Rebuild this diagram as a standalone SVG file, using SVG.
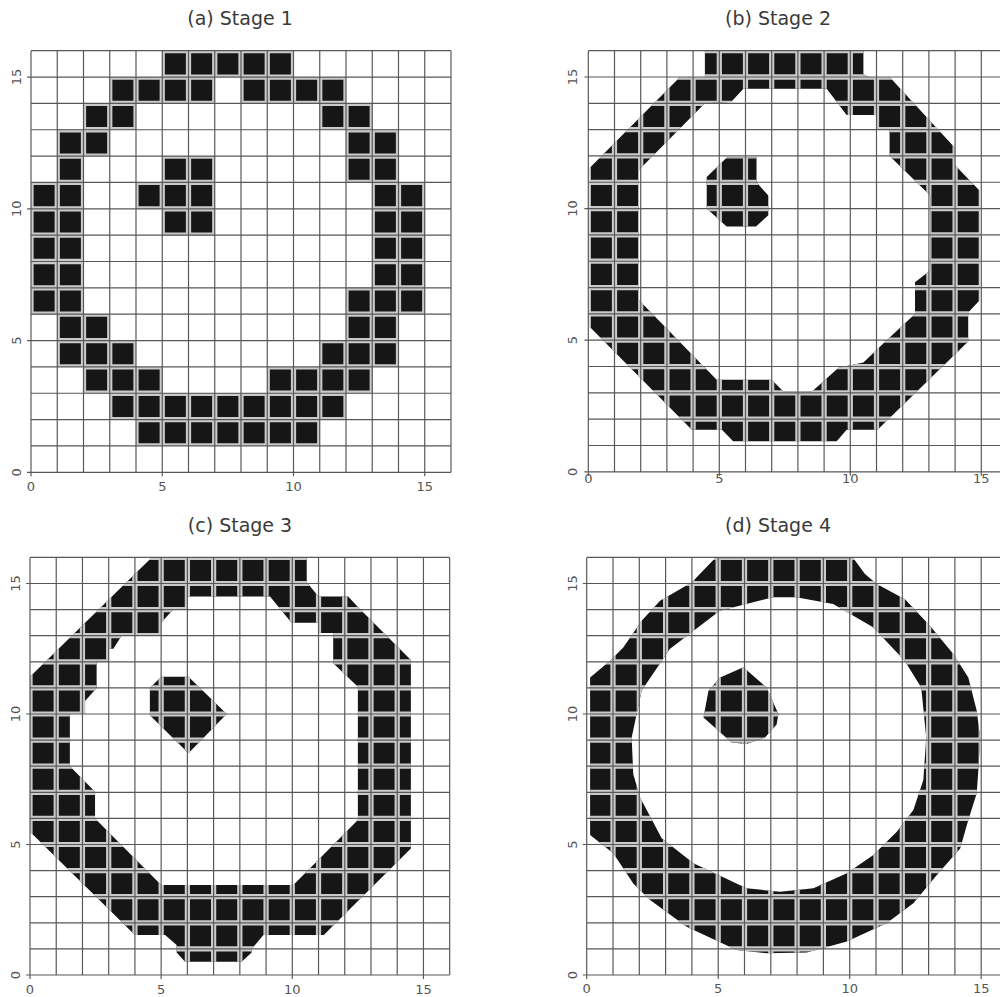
<svg xmlns="http://www.w3.org/2000/svg" xmlns:xlink="http://www.w3.org/1999/xlink" width="1000" height="997" viewBox="0 0 1000 997">
<style>
.bg{fill:#ffffff}
.ink{fill:#161616}
.lite{fill:none;stroke:#cacaca;stroke-width:0.2}
.line{fill:none;stroke:#585858;stroke-width:0.045}
.tick{fill:none;stroke:#585858;stroke-width:0.045}
.title{font-family:"DejaVu Sans","Liberation Sans",sans-serif;font-size:19px;fill:#3a3a3a;text-anchor:middle}
.num{font-family:"DejaVu Sans","Liberation Sans",sans-serif;font-size:13px;fill:#555555;text-anchor:middle}
</style>
<defs>
<path id="grid" d="M0 0V16M1 0V16M2 0V16M3 0V16M4 0V16M5 0V16M6 0V16M7 0V16M8 0V16M9 0V16M10 0V16M11 0V16M12 0V16M13 0V16M14 0V16M15 0V16M16 0V16M0 0H16M0 1H16M0 2H16M0 3H16M0 4H16M0 5H16M0 6H16M0 7H16M0 8H16M0 9H16M0 10H16M0 11H16M0 12H16M0 13H16M0 14H16M0 15H16M0 16H16"/>
<path id="ticks" d="M0 0V-0.15M5 0V-0.15M10 0V-0.15M15 0V-0.15M0 0H-0.15M0 5H-0.15M0 10H-0.15M0 15H-0.15"/>
<path id="inkA" d="M5 15h5v1h-5z M3 14h4v1h-4z M8 14h4v1h-4z M2 13h2v1h-2z M11 13h2v1h-2z M1 12h2v1h-2z M12 12h2v1h-2z M1 11h1v1h-1z M5 11h2v1h-2z M12 11h2v1h-2z M0 10h2v1h-2z M4 10h3v1h-3z M13 10h2v1h-2z M0 9h2v1h-2z M5 9h2v1h-2z M13 9h2v1h-2z M0 8h2v1h-2z M13 8h2v1h-2z M0 7h2v1h-2z M13 7h2v1h-2z M0 6h2v1h-2z M12 6h3v1h-3z M1 5h2v1h-2z M12 5h2v1h-2z M1 4h3v1h-3z M11 4h3v1h-3z M2 3h3v1h-3z M9 3h4v1h-4z M3 2h9v1h-9z M4 1h7v1h-7z"/>
<path id="inkB" fill-rule="evenodd" clip-rule="evenodd" d="M4.45 16L10.5 16L10.5 15.1L10.7 15L11.5 15L14 12.3L14 11.65L14.92 10.7L14.92 6.5L14.5 6.05L14.5 4.95L11.04 1.6L9.86 1.6L9.48 1.16L5.53 1.16L5.1 1.6L3.95 1.6L0.06 5.5L0.06 11.55L3.5 15L4.45 15Z M5.92 14.55L9.1 14.55L9.86 13.56L11 13.56L11 13L11.5 13L11.5 12L13.05 10.5L13.05 7.65L12.47 7.2L12.47 6L11.5 5.1L10.5 4.15L9.55 3.95L8.55 3.06L7.44 3.06L7 3.5L4.9 3.5L1.91 6.55L1.91 11.45L4.45 14L5.45 14.05Z M4.52 11.2L5.3 11.95L6.42 11.95L6.42 11L6.87 10.5L6.87 9.75L6.4 9.32L5.28 9.32L4.52 10Z"/>
<path id="inkC" fill-rule="evenodd" clip-rule="evenodd" d="M4.64 16L10.55 16L10.55 15.05L11 14.5L12.13 14.5L12.5 14.1L14.52 12.07L14.52 4.85L11.2 1.53L8.9 1.53L8.45 1L8.45 0.86L8.07 0.51L5.91 0.51L5.59 0.86L5.59 1.15L5.15 1.53L4 1.53L0 5.49L0.02 11.45Z M6 14.5L9.15 14.5L9.97 13.5L11 13.5L11 13.1L11.56 13.1L11.56 11.94L12.5 11.04L12.5 5.94L10.04 3.45L5 3.45L2.48 6L2.48 7.02L1.52 8L1.52 10L2.1 10L2.1 10.5L2.54 11L2.54 12L3 12L3 12.5L3.18 12.5L3.49 13L5 13L5 13.5L5.46 14L6 14Z M4.57 11L5 11.43L6.04 11.43L7.5 10L6.04 8.5L4.57 9.95Z"/>
<path id="inkD" fill-rule="evenodd" clip-rule="evenodd" d="M4.88 15.97L10.14 15.97L10.58 15.36L11.03 14.98L12.1 14.4L13.05 13.38L13.94 12.3L14.51 11.4L14.83 10.12L14.96 9.1L14.9 7.98L14.83 6.96L14.51 5.94L14.2 4.85L13.37 3.9L12.42 2.75L11.4 1.98L9.89 1.28L8.37 0.86L6.84 0.83L5.7 0.96L3.8 1.85L2.41 2.87L1.77 3.51L1.01 4.66L0.13 5.36L0.13 11.4L0.89 12.04L1.39 12.55L2.09 13.57L2.79 14.34L3.99 15.04Z M7.09 14.47L7.97 14.47L9.37 14.21L10.89 13.32L12.09 12.04L12.72 11.02L12.91 9.1L12.8 7.47L12.42 6.32L11.79 5.49L10.9 4.6L9.89 3.9L8.62 3.32L7.35 3.19L6.08 3.32L4.06 4.28L2.85 5.24L2.03 6.8L1.77 7.7L1.71 9.1L2.09 10.9L3.16 12.49L5.06 13.96Z M5.96 11.79L6.84 11.02L7.29 10L7.22 9.6L6.78 9.1L6.08 8.85L5.51 8.91L4.44 9.87L4.63 10.89L5.07 11.4Z"/>
<clipPath id="clipA"><use xlink:href="#inkA"/></clipPath>
<clipPath id="clipB"><use xlink:href="#inkB"/></clipPath>
<clipPath id="clipC"><use xlink:href="#inkC"/></clipPath>
<clipPath id="clipD"><use xlink:href="#inkD"/></clipPath>
</defs>
<rect class="bg" x="0" y="0" width="1000" height="997"/>

<g id="panel-a">
<g transform="translate(31,472.3) scale(26.25,-26.35)">
<use xlink:href="#inkA" class="ink"/>
<use xlink:href="#grid" class="lite" clip-path="url(#clipA)"/>
<use xlink:href="#grid" class="line"/>
<use xlink:href="#ticks" class="tick"/>
</g>
<text class="title" x="240" y="25">(a) Stage 1</text>
<text class="num" x="31" y="491">0</text>
<text class="num" x="162.3" y="491">5</text>
<text class="num" x="293.5" y="491">10</text>
<text class="num" x="424.8" y="491">15</text>
<text class="num" transform="translate(21,472.3) rotate(-90)">0</text>
<text class="num" transform="translate(21,340.5) rotate(-90)">5</text>
<text class="num" transform="translate(21,208.8) rotate(-90)">10</text>
<text class="num" transform="translate(21,77) rotate(-90)">15</text>
</g>

<g id="panel-b">
<g transform="translate(588.3,471.8) scale(26.2,-26.32)">
<use xlink:href="#inkB" class="ink"/>
<use xlink:href="#grid" class="lite" clip-path="url(#clipB)"/>
<use xlink:href="#grid" class="line"/>
<use xlink:href="#ticks" class="tick"/>
</g>
<text class="title" x="778" y="25">(b) Stage 2</text>
<text class="num" x="588.3" y="483">0</text>
<text class="num" x="719.3" y="483">5</text>
<text class="num" x="850.3" y="483">10</text>
<text class="num" x="981.3" y="483">15</text>
<text class="num" transform="translate(577,471.8) rotate(-90)">0</text>
<text class="num" transform="translate(577,340.2) rotate(-90)">5</text>
<text class="num" transform="translate(577,208.6) rotate(-90)">10</text>
<text class="num" transform="translate(577,77) rotate(-90)">15</text>
</g>

<g id="panel-c">
<g transform="translate(30,975) scale(26.23,-26.1)">
<use xlink:href="#inkC" class="ink"/>
<use xlink:href="#grid" class="lite" clip-path="url(#clipC)"/>
<use xlink:href="#grid" class="line"/>
<use xlink:href="#ticks" class="tick"/>
</g>
<text class="title" x="240" y="532">(c) Stage 3</text>
<text class="num" x="30" y="994">0</text>
<text class="num" x="161.2" y="994">5</text>
<text class="num" x="292.3" y="994">10</text>
<text class="num" x="423.5" y="994">15</text>
<text class="num" transform="translate(20,975) rotate(-90)">0</text>
<text class="num" transform="translate(20,844.5) rotate(-90)">5</text>
<text class="num" transform="translate(20,714) rotate(-90)">10</text>
<text class="num" transform="translate(20,583.5) rotate(-90)">15</text>
</g>

<g id="panel-d">
<g transform="translate(586.7,975) scale(26.3,-26.1)">
<use xlink:href="#inkD" class="ink"/>
<use xlink:href="#grid" class="lite" clip-path="url(#clipD)"/>
<use xlink:href="#grid" class="line"/>
<use xlink:href="#ticks" class="tick"/>
</g>
<text class="title" x="778" y="532">(d) Stage 4</text>
<text class="num" x="586.7" y="993">0</text>
<text class="num" x="718.2" y="993">5</text>
<text class="num" x="849.7" y="993">10</text>
<text class="num" x="981.2" y="993">15</text>
<text class="num" transform="translate(577,975) rotate(-90)">0</text>
<text class="num" transform="translate(577,844.5) rotate(-90)">5</text>
<text class="num" transform="translate(577,714) rotate(-90)">10</text>
<text class="num" transform="translate(577,583.5) rotate(-90)">15</text>
</g>
</svg>
